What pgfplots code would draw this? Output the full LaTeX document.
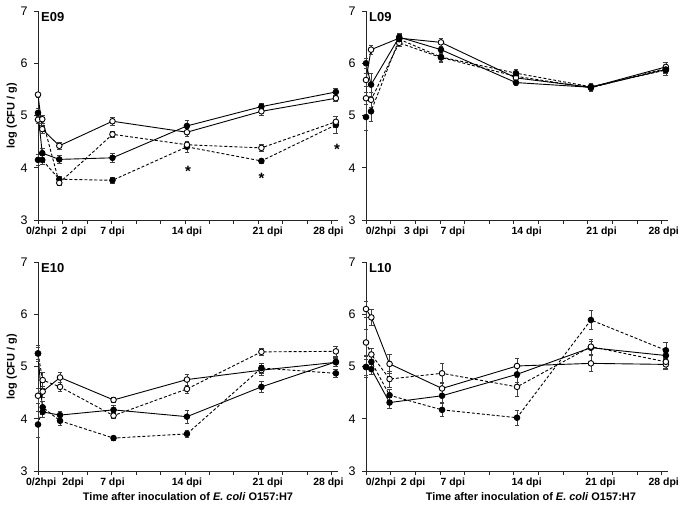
\documentclass[border=0pt]{standalone}
\usepackage{fontspec}
\setmainfont{Liberation Sans}
\usepackage{pgfplots}
\pgfplotsset{compat=1.18}

\tikzset{plabel/.style={font=\bfseries\fontsize{13}{15}\selectfont, anchor=north west, inner sep=0pt},
  star/.style={font=\bfseries\fontsize{15}{15}\selectfont}}

\pgfplotsset{
  panel/.style={
    scale only axis, width=300bp, height=209bp,
    xmin=0, xmax=28.2, ymin=3, ymax=7,
    axis x line=bottom, axis y line=left,
    x axis line style={-}, y axis line style={-},
    axis line style={line width=0.8bp, black!85},
    ytick={3,4,5,6,7},
    xtick={0,2.3,4.6,6.9,9.2,11.5,13.8,16.1,18.4,20.7,23,25.3,27.6},
    xticklabels={},
    tick style={line width=0.6bp, black!85},
    major tick length=4bp, tick align=outside,
    /pgf/number format/assume math mode=true,
    yticklabel style={font=\fontsize{12.5}{14}\selectfont, xshift=-3bp},
    xticklabel style={font=\bfseries\fontsize{10.5}{12}\selectfont, yshift=-3bp},
    extra x tick style={major tick length=0pt, tick style={draw=none}},
    ylabel={\bfseries log (CFU / g)},
    ylabel style={font=\fontsize{11}{12}\selectfont, at={(axis description cs:-0.087,0.5)}, anchor=center},
    clip=false,
  },
  base/.style={black, line width=0.9bp, solid, mark=*, mark size=2.8bp},
  eb/.style={error bars/.cd, y dir=both, y explicit,
    error bar style={line width=0.55bp, solid, black!75},
    error mark options={rotate=90, mark size=2.4bp, line width=0.55bp, black!75}},
  sf/.style={base, mark options={solid, fill=black, draw=black}, eb},
  so/.style={base, mark options={solid, fill=white, draw=black}, eb},
  df/.style={base, dash pattern=on 3bp off 2bp, mark options={solid, fill=black, draw=black}, eb},
  do/.style={base, dash pattern=on 3bp off 2bp, mark options={solid, fill=white, draw=black}, eb},
}

\begin{document}
\begin{tikzpicture}
\useasboundingbox (0,0) rectangle (682bp,515bp);

% ---- E09 ----
\begin{axis}[panel, at={(38bp,295bp)}, anchor=south west,
  extra x ticks={0.3,3.4,7,14,21.6,27.3},
  extra x tick labels={0/2hpi,2 dpi,7 dpi,14 dpi,21 dpi,28 dpi}]
\addplot+[sf] table[x=x,y=y,y error=e] {
x y e
0 5.05 0.08
0.4 4.28 0.10
2.0 4.16 0.07
7.0 4.19 0.08
14.0 4.80 0.10
21.0 5.17 0.06
28.0 5.45 0.08
};
\addplot+[df] table[x=x,y=y,y error=e] {
x y e
0 4.15 0.10
0.4 4.15 0.08
2.0 3.78 0.06
7.0 3.76 0.05
14.0 4.40 0.10
21.0 4.13 0.04
28.0 4.82 0.16
};
\addplot+[so] table[x=x,y=y,y error=e] {
x y e
0 5.40 0.05
0.4 4.74 0.08
2.0 4.42 0.07
7.0 4.89 0.08
14.0 4.68 0.08
21.0 5.08 0.07
28.0 5.33 0.06
};
\addplot+[do] table[x=x,y=y,y error=e] {
x y e
0 4.92 0.07
0.4 4.93 0.08
2.0 3.71 0.05
7.0 4.64 0.05
14.0 4.44 0.06
21.0 4.38 0.06
28.0 4.88 0.10
};
\node[star] at (axis cs:14.1,3.93) {*};
\node[star] at (axis cs:21.0,3.80) {*};
\node[star] at (axis cs:28.1,4.36) {*};
\node[plabel] at (rel axis cs:0,1) [xshift=3bp, yshift=-1bp] {E09};
\end{axis}

% ---- L09 ----
\begin{axis}[panel, at={(366bp,295bp)}, anchor=south west, width=302bp, ylabel={},
  extra x ticks={1.4,4.7,8.1,15,22,27.8},
  extra x tick labels={0/2hpi,3 dpi,7 dpi,14 dpi,21 dpi,28 dpi}]
\addplot+[do] table[x=x,y=y,y error=e] {
x y e
0 5.33 0.12
0.47 5.30 0.15
3.1 6.39 0.06
7.0 6.11 0.10
14.0 5.75 0.06
21.0 5.53 0.06
28.0 5.90 0.07
};
\addplot+[so] table[x=x,y=y,y error=e] {
x y e
0 5.68 0.12
0.47 6.26 0.08
3.1 6.48 0.08
7.0 6.40 0.08
14.0 5.72 0.07
21.0 5.54 0.06
28.0 5.93 0.08
};
\addplot+[df] table[x=x,y=y,y error=e] {
x y e
0 4.97 0.25
0.47 5.08 0.20
3.1 6.46 0.08
7.0 6.12 0.08
14.0 5.81 0.07
21.0 5.55 0.06
28.0 5.87 0.10
};
\addplot+[sf] table[x=x,y=y,y error=e] {
x y e
0 6.00 0.10
0.47 5.59 0.22
3.1 6.50 0.07
7.0 6.26 0.07
14.0 5.63 0.06
21.0 5.54 0.06
28.0 5.88 0.08
};
\node[plabel] at (rel axis cs:0,1) [xshift=3bp, yshift=-1bp] {L09};
\end{axis}

% ---- E10 ----
\begin{axis}[panel, at={(38bp,44bp)}, anchor=south west,
  extra x ticks={0.3,3.3,7,14,21.6,27.3},
  extra x tick labels={0/2hpi,2dpi,7 dpi,14 dpi,21 dpi,28 dpi},
  xlabel={\bfseries Time after inoculation of \textit{E. coli} O157:H7},
  xlabel style={font=\fontsize{11}{12}\selectfont, at={(axis description cs:0.5,-0.124)}, anchor=center}]
\addplot+[so] table[x=x,y=y,y error=e] {
x y e
0 4.44 0.15
0.44 4.52 0.10
2.07 4.79 0.10
7.1 4.36 0.05
14.0 4.75 0.10
21.0 4.93 0.10
28.0 5.08 0.08
};
\addplot+[do] table[x=x,y=y,y error=e] {
x y e
0 5.25 0.12
0.44 4.74 0.15
2.07 4.61 0.08
7.1 4.06 0.06
14.0 4.57 0.08
21.0 5.28 0.06
28.0 5.29 0.10
};
\addplot+[sf] table[x=x,y=y,y error=e] {
x y e
0 5.25 0.15
0.44 4.13 0.10
2.07 4.07 0.08
7.1 4.17 0.08
14.0 4.04 0.12
21.0 4.61 0.10
28.0 5.09 0.08
};
\addplot+[df] table[x=x,y=y,y error=e] {
x y e
0 3.89 0.25
0.44 4.22 0.12
2.07 3.96 0.08
7.1 3.63 0.04
14.0 3.71 0.06
21.0 4.97 0.10
28.0 4.87 0.08
};
\node[plabel] at (rel axis cs:0,1) [xshift=3bp, yshift=-1bp] {E10};
\end{axis}

% ---- L10 ----
\begin{axis}[panel, at={(366bp,44bp)}, anchor=south west, width=302bp, ylabel={},
  extra x ticks={1.4,4.4,8.1,15,21.9,27.8},
  extra x tick labels={0/2hpi,2 dpi,7 dpi,14 dpi,21 dpi,28 dpi},
  xlabel={\bfseries Time after inoculation of \textit{E. coli} O157:H7},
  xlabel style={font=\fontsize{11}{12}\selectfont, at={(axis description cs:0.546,-0.124)}, anchor=center}]
\addplot+[sf] table[x=x,y=y,y error=e] {
x y e
0 4.99 0.15
0.5 4.95 0.10
2.2 4.31 0.10
7.1 4.44 0.12
14.1 4.85 0.15
21.0 5.36 0.12
28.0 5.21 0.12
};
\addplot+[df] table[x=x,y=y,y error=e] {
x y e
0 4.99 0.20
0.5 5.09 0.10
2.2 4.45 0.12
7.1 4.17 0.12
14.1 4.02 0.15
21.0 5.89 0.18
28.0 5.31 0.15
};
\addplot+[so] table[x=x,y=y,y error=e] {
x y e
0 6.10 0.15
0.5 5.94 0.15
2.2 5.05 0.18
7.1 4.58 0.12
14.1 5.01 0.15
21.0 5.06 0.15
28.0 5.04 0.10
};
\addplot+[do] table[x=x,y=y,y error=e] {
x y e
0 5.46 0.25
0.5 5.23 0.12
2.2 4.76 0.15
7.1 4.87 0.20
14.1 4.61 0.18
21.0 5.38 0.15
28.0 5.09 0.12
};
\node[plabel] at (rel axis cs:0,1) [xshift=3bp, yshift=-1bp] {L10};
\end{axis}
\end{tikzpicture}
\end{document}
